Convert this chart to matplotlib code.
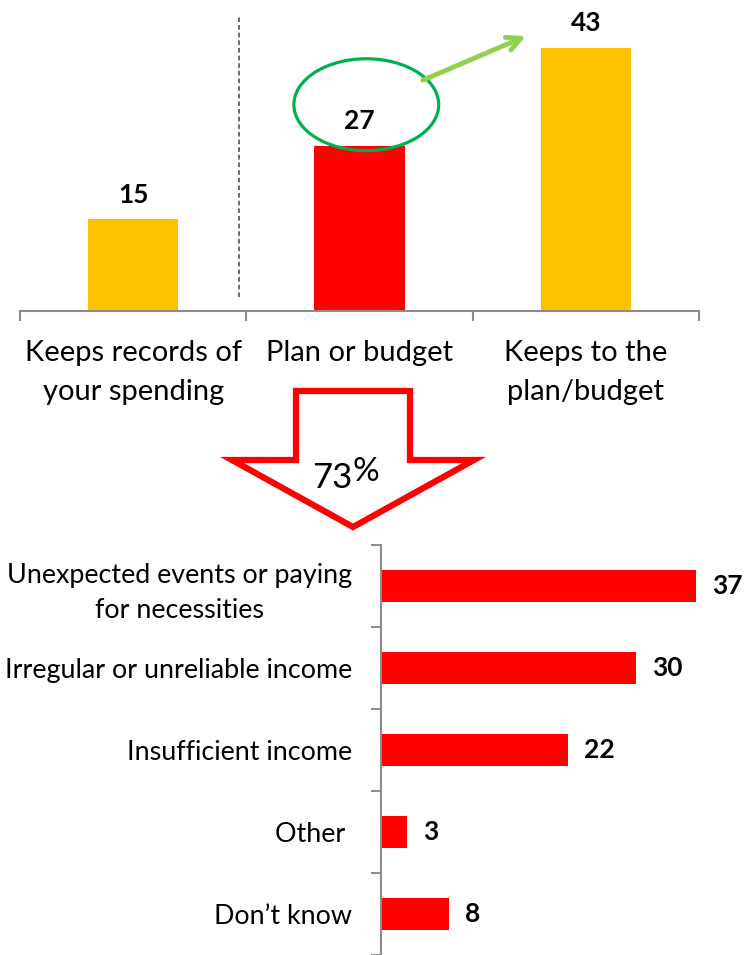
import matplotlib.pyplot as plt
from matplotlib.patches import Ellipse, Polygon

plt.rcParams['font.family'] = ['Lato', 'DejaVu Sans']

YELLOW = '#FFC000'
RED = '#FF0000'
AXIS = '#8C8C8C'

# top chart: budgeting behaviour
habits = ['Keeps records of\nyour spending', 'Plan or budget', 'Keeps to the\nplan/budget']
habit_pct = [15, 27, 43]
habit_colors = [YELLOW, RED, YELLOW]

# bottom chart: reasons for not keeping to the budget
reasons = ['Unexpected events or paying\nfor necessities', 'Irregular or unreliable income',
           'Insufficient income', 'Other ', 'Don\u2019t know']
reason_pct = [37, 30, 22, 3, 8]

W, H = 752, 955
fig = plt.figure(figsize=(W / 100, H / 100), dpi=100)


def px(x, y):
    return x / W, 1 - y / H


# ---- top axes ----
ax1 = fig.add_axes([20 / W, 1 - 311 / H, 679 / W, 311 / H])
x = range(len(habits))
ax1.bar(x, habit_pct, width=0.4, color=habit_colors)
for i, v in zip(x, habit_pct):
    ax1.text(i, v + 4.0, str(v), ha='center', va='center', fontsize=19, fontweight='bold')
ax1.set_xlim(-0.5, 2.5)
ax1.set_ylim(0, 50.8)
for s in ['top', 'right', 'left']:
    ax1.spines[s].set_visible(False)
ax1.spines['bottom'].set_color(AXIS)
ax1.spines['bottom'].set_linewidth(1.5)
ax1.set_yticks([])
ax1.set_xticks(list(x))
ax1.set_xticklabels(habits, fontsize=21, linespacing=1.6)
ax1.set_xticks([-0.5, 0.5, 1.5, 2.5], minor=True)
ax1.tick_params(axis='x', which='major', length=0, pad=21)
ax1.tick_params(axis='x', which='minor', length=7, width=1.5, color=AXIS, direction='out')

# separator between records and plan
ax1.plot([0.4675, 0.4675], [2.3, 48.4], color='#404040', lw=1.1, dashes=(3, 2))

# highlight around the plan/budget value
ax1.add_patch(Ellipse((1.03, 33.7), 0.64, 15.0, fill=False, edgecolor='#00B050',
                      lw=2.3, clip_on=False))
ax1.annotate('', xy=(1.735, 44.9), xytext=(1.28, 37.7),
             arrowprops=dict(arrowstyle='->', color='#92D050', lw=3.5,
                             mutation_scale=25, shrinkA=0, shrinkB=0),
             annotation_clip=False)

# ---- down arrow with share ----
arrow_pts = [px(296, 391), px(410, 391), px(410, 460), px(474, 460),
             px(353, 527), px(232, 460), px(296, 460)]
fig.patches.append(Polygon(arrow_pts, closed=True, fill=True, facecolor='white',
                           edgecolor=RED, lw=4.5, joinstyle='miter',
                           transform=fig.transFigure))
fig.text(*px(352, 488), '73', ha='right', va='baseline', fontsize=25)
fig.text(*px(352, 481), '%', ha='left', va='baseline', fontsize=24)

# ---- bottom axes ----
ax2 = fig.add_axes([381 / W, 0, 371 / W, 410 / H])
y = range(len(reasons))
ax2.barh(y, reason_pct, height=0.39, color=RED)
for i, v in zip(y, reason_pct):
    ax2.text(v + 1.9, i, str(v), ha='left', va='center', fontsize=19, fontweight='bold')
ax2.set_ylim(4.5, -0.5)
ax2.set_xlim(0, 43.6)
for s in ['top', 'right', 'bottom']:
    ax2.spines[s].set_visible(False)
ax2.spines['left'].set_color(AXIS)
ax2.spines['left'].set_linewidth(1.5)
ax2.set_xticks([])
ax2.set_yticks(list(y))
ax2.set_yticklabels(reasons, fontsize=19.4, linespacing=1.45, multialignment='center')
ax2.set_yticks([-0.5, 0.5, 1.5, 2.5, 3.5, 4.5], minor=True)
ax2.tick_params(axis='y', which='major', length=0, pad=21)
ax2.tick_params(axis='y', which='minor', length=7, width=1.5, color=AXIS, direction='out')

fig.savefig('out.png', dpi=100)
